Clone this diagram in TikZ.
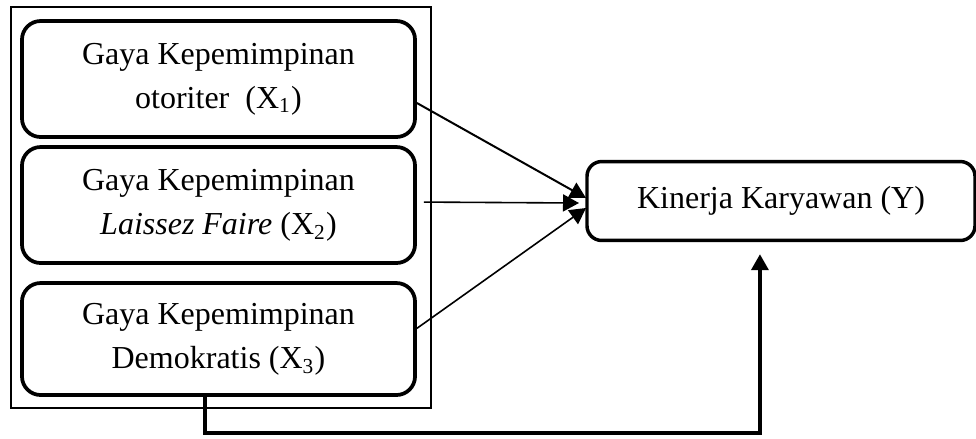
\documentclass[tikz,border=0pt]{standalone}
\usepackage{fontspec}
\setmainfont{Liberation Serif}
\usetikzlibrary{arrows.meta}

\begin{document}
\begin{tikzpicture}[x=0.375pt, y=-0.375pt,
	 varbox/.style={draw, line width=1.4pt, rounded corners=7pt, align=center,
	   font=\fontsize{12pt}{16.5pt}\selectfont, minimum width=147.4pt, inner sep=0pt},
	 framebox/.style={draw, line width=0.6pt, minimum width=157.5pt, minimum height=150.4pt, inner sep=0pt},
	 arr/.style={-{Triangle[length=6pt,width=6.4pt]}}]
	    \useasboundingbox (0,0) rectangle (976,438);
	    \node (frame) at (221,207.5) [framebox] {};
	    \node (x1) at (218.5,79) [varbox, minimum height=43.5pt] {Gaya Kepemimpinan\\otoriter~ (X\textsubscript{1})};
	    \node (x2) at (218.5,205) [varbox, minimum height=43.5pt] {Gaya Kepemimpinan\\\textit{Laissez Faire} (X\textsubscript{2})};
	    \node (x3) at (218.5,339) [varbox, minimum height=42pt] {Gaya Kepemimpinan\\Demokratis (X\textsubscript{3})};
	    \node (y) at (781,201) [varbox, line width=1.3pt, rounded corners=5.5pt, minimum width=145.5pt, minimum height=29.6pt] {Kinerja Karyawan (Y)};
	    \coordinate (tip1) at (586,198);
	    \coordinate (tip2) at (579,203);
	    \coordinate (tip3) at (586,208);
	    \coordinate (turn) at (205,433);
	    \draw[arr, line width=0.75pt] ([yshift=-9pt]x1.east) -- (tip1);
	    \draw[arr, line width=0.6pt] ([xshift=2.6pt,yshift=1.1pt]x2.east) -- (tip2);
	    \draw[arr, line width=0.6pt] ([yshift=4pt]x3.east) -- (tip3);
	    \draw[arr, line width=1.3pt] (x3.south -| turn) -- (turn) -| ([xshift=-7.9pt,yshift=-4.5pt]y.south);
	 \end{tikzpicture}
\end{document}
